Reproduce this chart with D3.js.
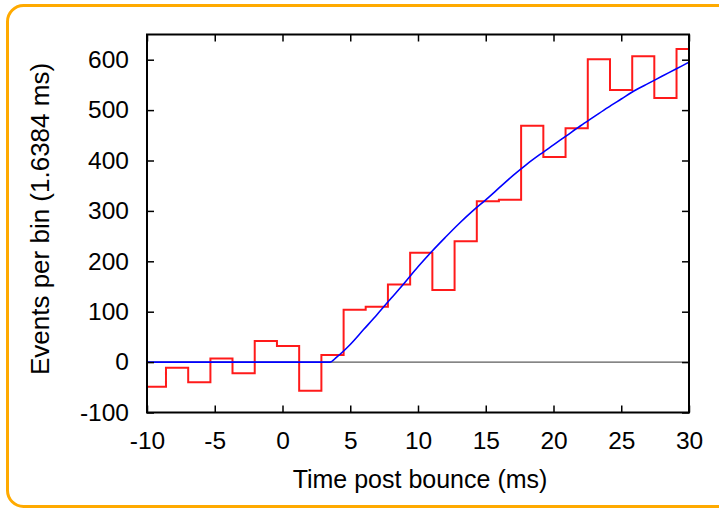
<!DOCTYPE html>
<html lang="en">
<head>
<meta charset="UTF-8">
<script src="https://d3js.org/d3.v7.min.js"></script>
<style>
html, body { margin: 0; padding: 0; background: #fff; }
svg { display: block; }
text { font-family: "Liberation Sans", Arial, sans-serif; fill: #000; }
</style>
</head>
<body>
<svg id="chart" width="719" height="509"></svg>
<script>
// histogram bins (start time in ms, bin width 1.6384 ms)
var binStart = [-10.24, -8.60, -6.96, -5.32, -3.69, -2.05, -0.41, 1.23, 2.87, 4.51,
                6.14, 7.78, 9.42, 11.06, 12.70, 14.34, 15.97, 17.61, 19.25, 20.89,
                22.53, 24.17, 25.81, 27.44, 29.08];
var binEnd = 30.72;
var binCounts = [-49, -11, -40, 7, -22, 42, 32, -57, 14, 104,
                 110, 154, 217, 143, 240, 319, 322, 469, 407, 464,
                 601, 540, 607, 524, 621];

// fitted curve
var fitT = [-10, 3.5, 4, 5, 6, 7, 8, 9, 10, 11, 12, 13, 14, 15, 16, 17, 18, 19, 20,
            21, 22, 23, 24, 25, 26, 27, 28, 29, 30];
var fitV = [0, 0, 10, 35, 65, 95, 126, 157, 189, 219, 247, 274, 299, 322, 346, 370, 392,
            412, 431, 450, 469, 487, 505, 522, 539, 553, 567, 581, 595];

var xTicks = [-10, -5, 0, 5, 10, 15, 20, 25, 30];
var yTicks = [-100, 0, 100, 200, 300, 400, 500, 600];

var svg = d3.select("#chart");
var mLeft = 147, mRight = 689, mTop = 34.5, mBottom = 412.5;

// orange rounded frame
svg.append("rect")
    .attr("x", 7.5).attr("y", 5.5)
    .attr("width", 730).attr("height", 501)
    .attr("rx", 16).attr("ry", 16)
    .attr("fill", "none")
    .attr("stroke", "#ffaa00")
    .attr("stroke-width", 3);

var x = d3.scaleLinear().domain([-10, 30]).range([mLeft, mRight]);
var y = d3.scaleLinear().domain([-100, 650]).range([mBottom, mTop]);

svg.append("clipPath").attr("id", "clip")
    .append("rect")
    .attr("x", mLeft).attr("y", mTop)
    .attr("width", mRight - mLeft).attr("height", mBottom - mTop);

var plot = svg.append("g").attr("clip-path", "url(#clip)");

// zero line
plot.append("line")
    .attr("x1", x(-10)).attr("x2", x(30))
    .attr("y1", y(0)).attr("y2", y(0))
    .attr("stroke", "#333")
    .attr("stroke-width", 1);

var stepPts = binStart.map(function (t, i) { return [t, binCounts[i]]; });
stepPts.push([binEnd, binCounts[binCounts.length - 1]]);

plot.append("path")
    .datum(stepPts)
    .attr("fill", "none")
    .attr("stroke", "#ff1a1a")
    .attr("stroke-width", 2)
    .attr("d", d3.line()
        .x(function (d) { return x(d[0]); })
        .y(function (d) { return y(d[1]); })
        .curve(d3.curveStepAfter));

plot.append("path")
    .datum(fitT.map(function (t, i) { return [t, fitV[i]]; }))
    .attr("fill", "none")
    .attr("stroke", "#0000ff")
    .attr("stroke-width", 1.6)
    .attr("d", d3.line()
        .x(function (d) { return x(d[0]); })
        .y(function (d) { return y(d[1]); })
        .curve(d3.curveMonotoneX));

// axes, ticks pointing inward on all four sides
function styleAxis(g) {
    g.select(".domain").remove();
    g.selectAll(".tick line").attr("stroke", "#000").attr("stroke-width", 1.5);
    g.selectAll(".tick text").attr("font-size", 24.5).attr("fill", "#000")
        .attr("font-family", "Liberation Sans, Arial, sans-serif");
}
var plain = function (d) { return String(d); };

svg.append("g")
    .attr("transform", "translate(" + mLeft + ",0)")
    .call(d3.axisLeft(y).tickValues(yTicks).tickSize(-7).tickPadding(18).tickFormat(plain))
    .call(styleAxis);

svg.append("g")
    .attr("transform", "translate(" + mRight + ",0)")
    .call(d3.axisRight(y).tickValues(yTicks).tickSize(-7).tickFormat(""))
    .call(styleAxis);

svg.append("g")
    .attr("transform", "translate(0," + mBottom + ")")
    .call(d3.axisBottom(x).tickValues(xTicks).tickSize(-7).tickPadding(19).tickFormat(plain))
    .call(styleAxis);

svg.append("g")
    .attr("transform", "translate(0," + mTop + ")")
    .call(d3.axisTop(x).tickValues(xTicks).tickSize(-7).tickFormat(""))
    .call(styleAxis);

// plot border
svg.append("rect")
    .attr("x", mLeft).attr("y", mTop)
    .attr("width", mRight - mLeft).attr("height", mBottom - mTop)
    .attr("fill", "none")
    .attr("stroke", "#000")
    .attr("stroke-width", 2);

svg.append("text")
    .attr("x", 420)
    .attr("y", 488)
    .attr("text-anchor", "middle")
    .attr("font-size", 25)
    .text("Time post bounce (ms)");

svg.append("text")
    .attr("transform", "translate(49,219) rotate(-90)")
    .attr("text-anchor", "middle")
    .attr("font-size", 26)
    .text("Events per bin (1.6384 ms)");
</script>
</body>
</html>
